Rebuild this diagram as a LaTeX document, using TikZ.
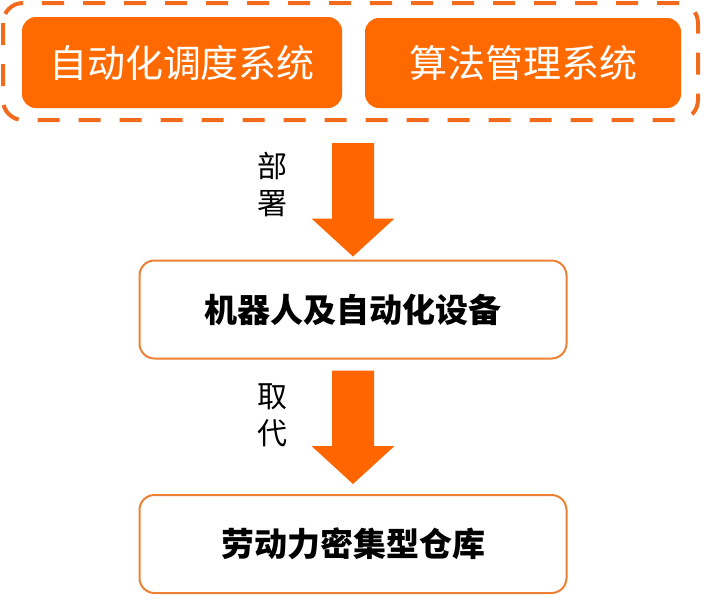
\documentclass[tikz,border=0pt]{standalone}
\usepackage{fontspec}
\newfontfamily\cjk{Noto Sans CJK SC}
\usetikzlibrary{calc}
\definecolor{orfill}{RGB}{255,106,0}
\definecolor{ordash}{RGB}{242,106,27}
\definecolor{orline}{RGB}{238,128,52}
\definecolor{orarrow}{RGB}{255,102,0}
\tikzset{
  topbox/.style={rectangle, rounded corners=14pt, fill=orfill, text=white, inner sep=0pt, font=\cjk\fontsize{38}{42}\selectfont},
  midbox/.style={rectangle, rounded corners=15pt, draw=orline, line width=2pt, fill=white, inner sep=0pt, minimum width=427pt, minimum height=98pt, font=\cjk\bfseries\fontsize{33}{38}\selectfont},
  lbl/.style={align=center, inner sep=0pt, font=\cjk\fontsize{30}{37}\selectfont},
  arr/.style={fill=orarrow}
}
\begin{document}
\begin{tikzpicture}[x=1pt,y=-1pt]
\useasboundingbox (0,0) rectangle (705,595);
% dashed group
\draw[ordash, line width=4pt, dash pattern=on 22pt off 19pt, rounded corners=20pt] (3,3) rectangle (698,120);
\coordinate (grpS) at (353,143);
\node[topbox, minimum width=320pt, minimum height=91pt] (auto) at (182,62.5) {自动化调度系统};
\node[topbox, minimum width=316pt, minimum height=90pt] (algo) at (523,63) {算法管理系统};
\node[midbox] (robot) at (353,309.5) {机器人及自动化设备};
\node[midbox] (ware) at (353,544) {劳动力密集型仓库};
\node[lbl] (l1) at (272.5,184.5) {部\\署};
\node[lbl] (l2) at (272.5,415) {取\\代};
% arrow 1
\coordinate (t1) at ($(robot.north)+(0,-3)$);
\fill[arr] ($(grpS)+(-21,0)$) -- ($(grpS)+(21,0)$) -- ($(t1)+(21,-38)$) -- ($(t1)+(41.5,-38)$) -- (t1) -- ($(t1)+(-41.5,-38)$) -- ($(t1)+(-21,-38)$) -- cycle;
% arrow 2
\coordinate (s2) at ($(robot.south)+(0,11)$);
\coordinate (t2) at ($(ware.north)+(0,-10)$);
\fill[arr] ($(s2)+(-21,0)$) -- ($(s2)+(21,0)$) -- ($(t2)+(21,-38)$) -- ($(t2)+(41.5,-38)$) -- (t2) -- ($(t2)+(-41.5,-38)$) -- ($(t2)+(-21,-38)$) -- cycle;
\end{tikzpicture}
\end{document}
